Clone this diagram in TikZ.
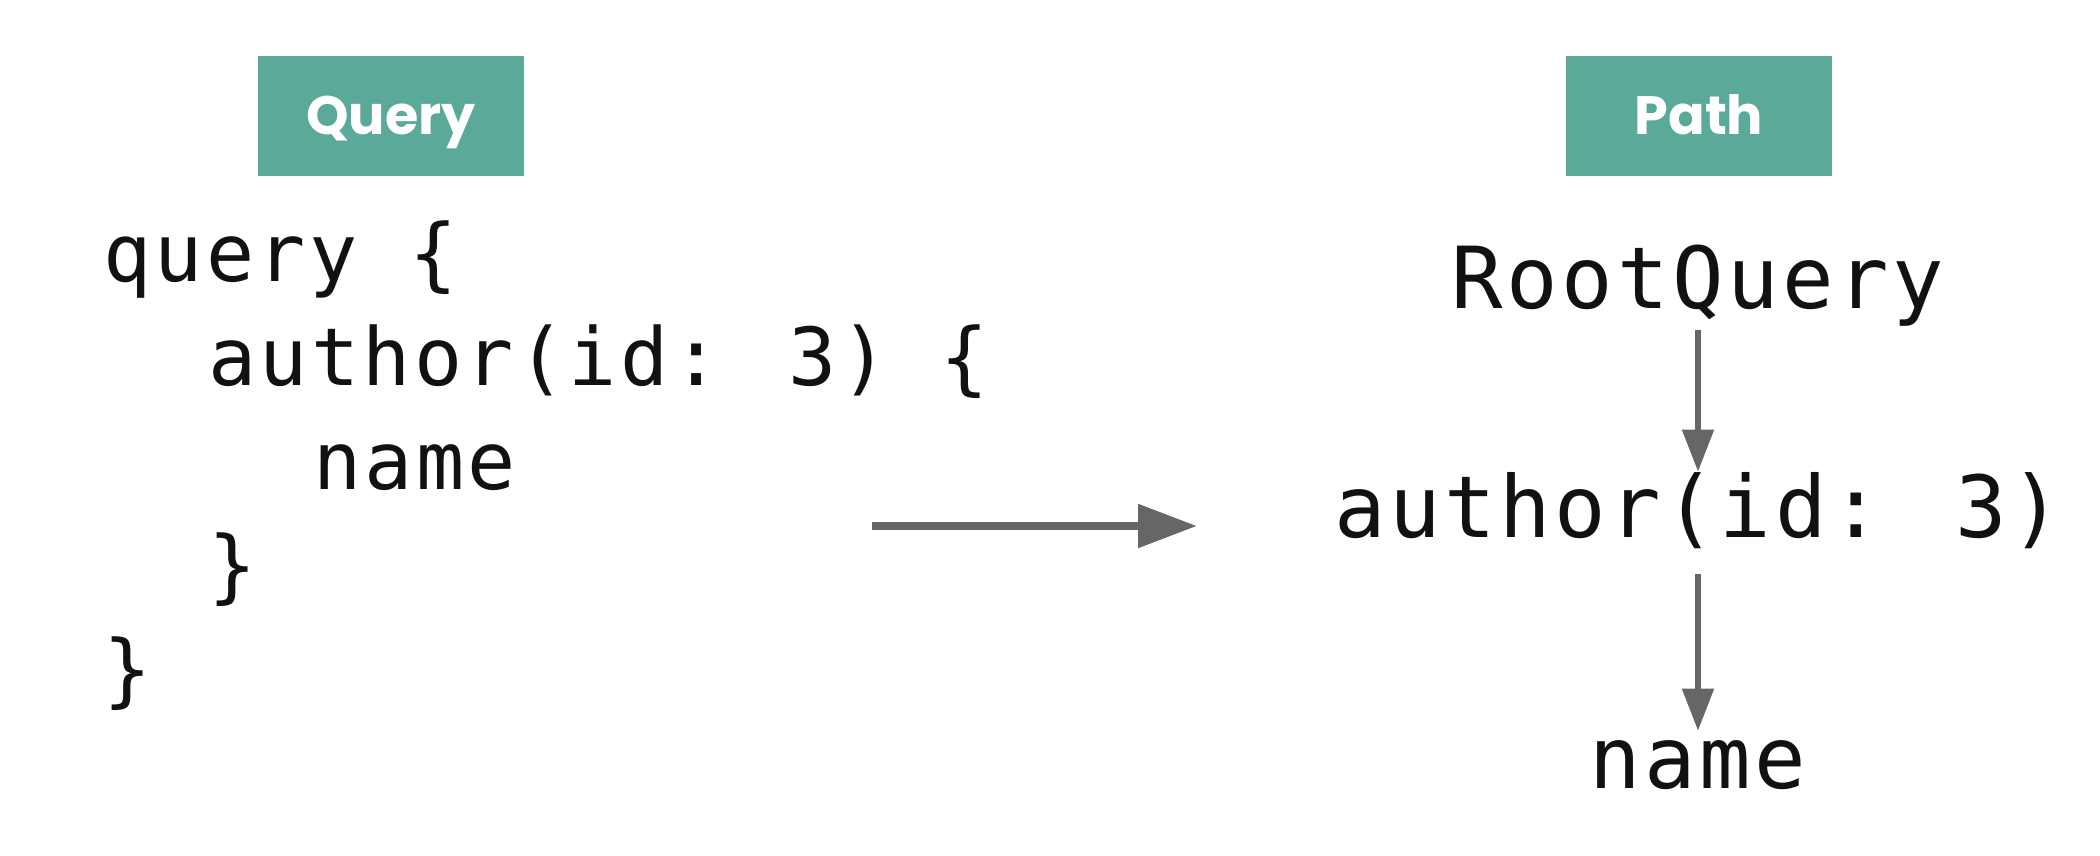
\documentclass[tikz,border=0pt]{standalone}
\usepackage{fontspec}
\usetikzlibrary{arrows.meta}
\newfontfamily\codefont[LetterSpace=4.2]{DejaVu Sans Mono}
\newfontfamily\tagfont{Poppins}
\definecolor{tagteal}{RGB}{91,169,153}
\definecolor{arrowgray}{RGB}{102,102,102}
\definecolor{inkblack}{RGB}{17,17,17}
\tikzset{
  tagbox/.style={fill=tagteal, text=white, minimum width=133pt, minimum height=60pt,
    inner sep=0pt, font=\tagfont\bfseries\fontsize{27}{32}\selectfont,
    text height=20pt, text depth=2pt},
  codeline/.style={anchor=base west, inner sep=0pt, text=inkblack,
    font=\codefont\fontsize{40}{48}\selectfont},
  pathitem/.style={anchor=base, inner sep=0pt, text=inkblack,
    font=\codefont\fontsize{42.8}{50}\selectfont},
  flow/.style={draw=arrowgray, line width=2.6pt, -{Triangle[length=21pt,width=15.5pt]}},
  bigflow/.style={draw=arrowgray, line width=4.25pt, -{Triangle[length=29.5pt,width=21pt]}},
}
\begin{document}
\begin{tikzpicture}[x=0.5pt,y=-0.5pt]
\useasboundingbox (0,0) rectangle (2100,856);
\fill[white] (0,0) rectangle (2100,856);
% tags
\node[tagbox] (qtag) at (391,116) {Query};
\node[tagbox] (ptag) at (1699,116) {Path};
% query code
\node[codeline] (c1) at (103,281) {query \{};
\node[codeline] (c2) at (208,385) {author(id: 3) \{};
\node[codeline] (c3) at (313,489) {name};
\node[codeline] (c4) at (208,593) {\}};
\node[codeline] (c5) at (103,697) {\}};
% path
\node[pathitem] (root) at (1698,308) {RootQuery};
\node[pathitem] (auth) at (1698,537) {author(id: 3)};
\node[pathitem] (leaf) at (1698,788) {name};
% arrows
\coordinate (hfrom) at (872,526);
\coordinate (hto) at (1197,526);
\draw[bigflow] (hfrom) -- (hto);
\draw[flow, shorten <=2pt] (root) -- (auth);
\draw[flow, shorten <=12.5pt, shorten >=4.5pt] (auth) -- (leaf);
\end{tikzpicture}
\end{document}
